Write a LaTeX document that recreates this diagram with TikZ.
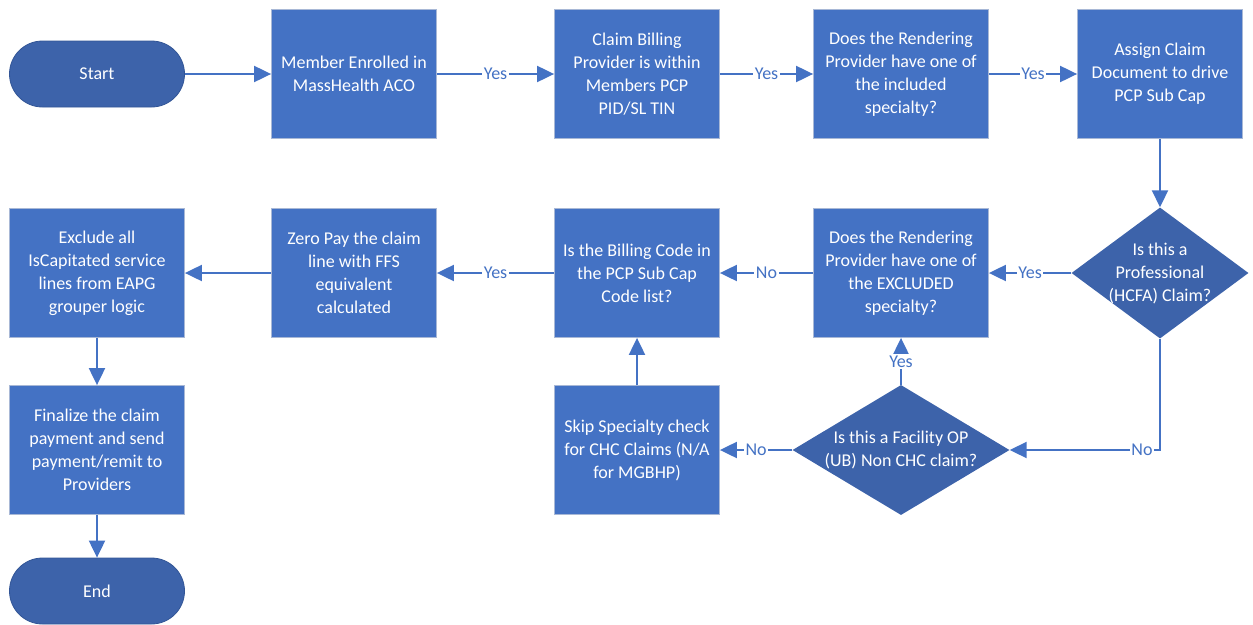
\documentclass[tikz,border=0pt]{standalone}
\usepackage{fontspec}
\setmainfont{Carlito}
\usetikzlibrary{shapes.geometric,arrows.meta}
\definecolor{boxblue}{RGB}{68,114,196}
\definecolor{darkblue}{RGB}{61,99,170}
\definecolor{edgegray}{RGB}{168,184,214}
\definecolor{termedge}{RGB}{50,85,150}
\begin{document}
\begin{tikzpicture}[x=1pt,y=-1pt,
  basefont/.style={font=\fontsize{18}{23}\selectfont},
  proc/.style={rectangle, fill=boxblue, draw=edgegray, line width=0.8pt,
    minimum width=165pt, minimum height=129pt, text=white, align=center,
    basefont, inner sep=0pt},
  wideproc/.style={proc, minimum width=175pt},
  term/.style={rectangle, rounded corners=33pt, fill=darkblue, draw=termedge,
    line width=0.8pt, minimum width=175pt, minimum height=66pt, text=white,
    basefont, inner sep=0pt},
  decision/.style={diamond, fill=darkblue, inner sep=0pt, aspect=1.33},
  dtext/.style={text=white, align=center, basefont},
  conn/.style={draw=boxblue, line width=2pt,
    -{Triangle[length=17pt,width=16pt]}},
  lbl/.style={fill=white, text=boxblue, inner sep=1.5pt, basefont}]
\useasboundingbox (0,0) rectangle (1253,624);

% row 1
\node[term] (start) at (97,74) {Start};
\node[proc] (member) at (354,74) {Member Enrolled in\\MassHealth ACO};
\node[proc] (billing) at (637,74) {Claim Billing\\Provider is within\\Members PCP\\PID/SL TIN};
\node[wideproc] (incl) at (901,74) {Does the Rendering\\Provider have one of\\the included\\specialty?};
\node[proc] (assign) at (1160,74) {Assign Claim\\Document to drive\\PCP Sub Cap};

% row 2
\node[decision, minimum width=177pt, minimum height=131pt,
  label={[dtext]center:{Is this a\\Professional\\(HCFA) Claim?}}] (hcfa) at (1160,273) {};
\node[wideproc] (excl) at (901,273) {Does the Rendering\\Provider have one of\\the EXCLUDED\\specialty?};
\node[proc] (code) at (637,273) {Is the Billing Code in\\the PCP Sub Cap\\Code list?};
\node[proc] (zero) at (354,273) {Zero Pay the claim\\line with FFS\\equivalent\\calculated};
\node[wideproc] (exclude) at (97,273) {Exclude all\\IsCapitated service\\lines from EAPG\\grouper logic};

% row 3
\node[decision, minimum width=217pt, minimum height=130pt,
  label={[dtext]center:{Is this a Facility OP\\(UB) Non CHC claim?}}] (fac) at (901,450) {};
\node[proc] (skip) at (637,450) {Skip Specialty check\\for CHC Claims (N/A\\for MGBHP)};
\node[wideproc] (final) at (97,450) {Finalize the claim\\payment and send\\payment/remit to\\Providers};

% row 4
\node[term] (end) at (97,591) {End};

% connectors
\draw[conn] (start) -- (member);
\draw[conn] (member) -- node[lbl] {Yes} (billing);
\draw[conn] (billing) -- node[lbl] {Yes} (incl);
\draw[conn] (incl) -- node[lbl] {Yes} (assign);
\draw[conn] (assign) -- (hcfa);
\draw[conn] (hcfa) -- node[lbl] {Yes} (excl);
\draw[conn] (excl) -- node[lbl] {No} (code);
\draw[conn] (code) -- node[lbl] {Yes} (zero);
\draw[conn] (zero) -- (exclude);
\draw[conn] (exclude) -- (final);
\draw[conn] (final) -- (end);
\draw[conn] (hcfa.south) |- node[lbl, pos=0.56] {No} (fac.east);
\draw[conn] (fac.north) -- node[lbl] {Yes} (excl.south);
\draw[conn] (fac.west) -- node[lbl] {No} (skip.east);
\draw[conn] (skip.north) -- (code.south);
\end{tikzpicture}
\end{document}
